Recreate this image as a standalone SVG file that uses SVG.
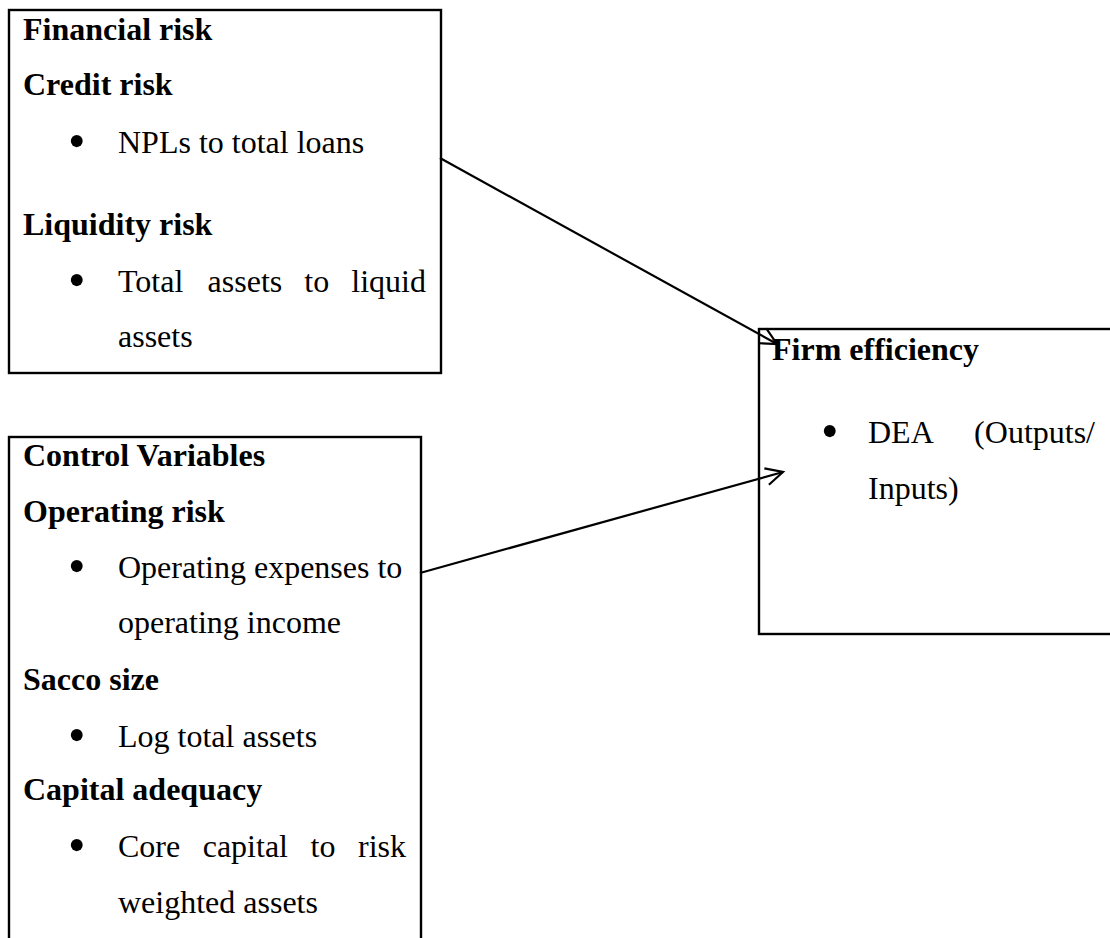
<svg xmlns="http://www.w3.org/2000/svg" width="1110" height="938" viewBox="0 0 1110 938">
<defs>
<style>
.box{fill:none;stroke:#000;stroke-width:2.4}
.h{font-family:"Liberation Serif","Times New Roman",serif;font-weight:bold;font-size:32px;fill:#000}
.t{font-family:"Liberation Serif","Times New Roman",serif;font-size:32px;fill:#000}
.b{font-family:"Liberation Serif","Times New Roman",serif;font-size:50px;fill:#000}
.edge{fill:none;stroke:#000;stroke-width:2.2}
</style>
<marker id="arr" markerUnits="userSpaceOnUse" viewBox="-20 -12 24 24" refX="0" refY="0" markerWidth="24" markerHeight="24" orient="auto" overflow="visible">
<path d="M-17,-8.5 L0,0 L-17,8.5" fill="none" stroke="#000" stroke-width="2.2"/>
</marker>
</defs>
<rect width="1110" height="938" fill="#fff"/>
<g id="financial-risk">
<rect class="box" x="9" y="10" width="432" height="363"/>
<text class="h" x="23" y="40">Financial risk</text>
<text class="h" x="23" y="95">Credit risk</text>
<text class="b" x="68" y="158">•</text>
<text class="t" x="118" y="153">NPLs to total loans</text>
<text class="h" x="23" y="235">Liquidity risk</text>
<text class="b" x="68" y="297">•</text>
<text class="t" y="292"><tspan x="118">Total</tspan><tspan x="207.6">assets</tspan><tspan x="304.3">to</tspan><tspan x="351.3">liquid</tspan></text>
<text class="t" x="118" y="347">assets</text>
</g>
<g id="control-variables">
<rect class="box" x="9" y="437" width="412" height="520"/>
<text class="h" x="23" y="466">Control Variables</text>
<text class="h" x="23" y="522">Operating risk</text>
<text class="b" x="68" y="583">•</text>
<text class="t" x="118" y="578">Operating expenses to</text>
<text class="t" x="118" y="633">operating income</text>
<text class="h" x="23" y="690">Sacco size</text>
<text class="b" x="68" y="752">•</text>
<text class="t" x="118" y="747">Log total assets</text>
<text class="h" x="23" y="800">Capital adequacy</text>
<text class="b" x="68" y="862">•</text>
<text class="t" y="857"><tspan x="118">Core</tspan><tspan x="202.7">capital</tspan><tspan x="310.5">to</tspan><tspan x="358">risk</tspan></text>
<text class="t" x="118" y="913">weighted assets</text>
</g>
<g id="firm-efficiency">
<rect class="box" x="759" y="329" width="370" height="305"/>
<text class="h" x="772" y="360">Firm efficiency</text>
<text class="b" x="821" y="448">•</text>
<text class="t" x="868" y="443">DEA</text>
<text class="t" x="1095" y="443" text-anchor="end">(Outputs/</text>
<text class="t" x="868" y="499">Inputs)</text>
</g>
<g id="connectors">
<line class="edge" x1="440" y1="158" x2="777" y2="344" marker-end="url(#arr)"/>
<line class="edge" x1="420" y1="573" x2="783" y2="472" marker-end="url(#arr)"/>
</g>
</svg>
